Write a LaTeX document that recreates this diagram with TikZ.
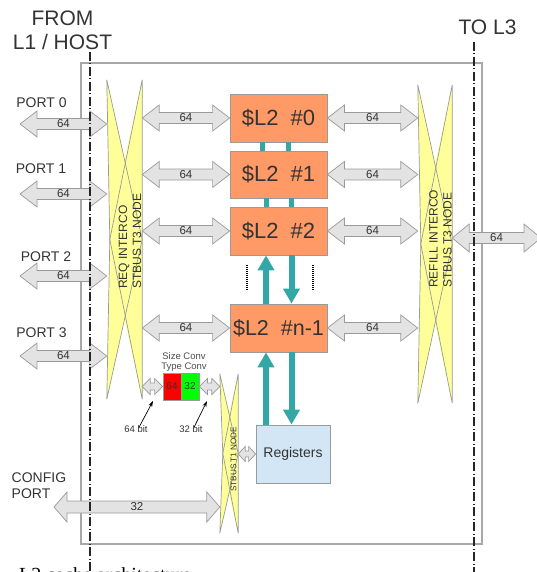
\documentclass[tikz,border=0pt]{standalone}
\usepackage{fontspec}
\setmainfont{Liberation Sans}
\newfontfamily\capfont{Liberation Serif}
\usetikzlibrary{calc,arrows.meta}
\definecolor{txt}{HTML}{333333}
\definecolor{boxgray}{HTML}{A8A8A8}
\definecolor{arrfill}{HTML}{E3E3E3}
\definecolor{arrline}{HTML}{9A9A9A}
\definecolor{ylw}{HTML}{FFFF99}
\definecolor{orng}{HTML}{FF9966}
\definecolor{teal2}{HTML}{33A6A6}
\definecolor{regblue}{HTML}{D2E6F5}
\newcommand\fsz[1]{\fontsize{#1}{#1}\selectfont}
% crossbar (STBus node) shape drawn over an invisible named node
\newcommand\crossnode[1]{%
  \coordinate (#1-c1) at ($(#1.north)!0.5!(#1.center)$);
  \coordinate (#1-c2) at ($(#1.south)!0.5!(#1.center)$);
  \coordinate (#1-m) at ($(#1.west)+(3,0)$);
  \fill[ylw] (#1.north west) -- (#1-c1) -- (#1.north east) -- (#1.south east) -- (#1-c2) -- (#1.south west) -- (#1-m) -- cycle;
  \draw[xline] (#1.north west) -- (#1.east) -- (#1.south west) -- (#1-m) -- cycle;
  \draw[xline] (#1.north east) -- (#1-m) -- (#1.south east) -- cycle;
}
% double-headed block arrow between two points on one horizontal line
% #1 from, #2 to, #3 shaft half, #4 head half, #5 head length, #6 label, #7 font size
\newcommand\fatarr[7]{%
  \path[arrowbox] let \p1=(#1), \p2=(#2) in
    (\x1,\y1) -- (\x1+#5pt,\y1+#4pt) -- (\x1+#5pt,\y1+#3pt) -- (\x2-#5pt,\y1+#3pt)
    -- (\x2-#5pt,\y1+#4pt) -- (\x2,\y1) -- (\x2-#5pt,\y1-#4pt) -- (\x2-#5pt,\y1-#3pt)
    -- (\x1+#5pt,\y1-#3pt) -- (\x1+#5pt,\y1-#4pt) -- cycle
    ({(\x1+\x2)/2},\y1) node[text=txt,inner sep=0,font=\fsz{#7}] {#6};
}
\begin{document}
\begin{tikzpicture}[x=1pt,y=-1pt,
  arrowbox/.style={draw=arrline,fill=arrfill,line width=0.7pt},
  xline/.style={draw=arrline,line width=0.7pt},
  hidden/.style={inner sep=0,draw=none},
  cachebox/.style={draw=arrline,fill=orng,line width=0.8pt,minimum width=97pt,minimum height=48pt,inner sep=0,text=txt,font=\fsz{22}},
  regbox/.style={draw=arrline,fill=regblue,line width=0.8pt,minimum width=74pt,minimum height=58pt,inner sep=0,text=txt,font=\fsz{14}},
  convbox/.style={draw=arrline,line width=0.8pt,minimum width=18pt,minimum height=27pt,inner sep=0,text=txt,font=\fsz{10}},
  lbl/.style={text=txt,inner sep=0},
  tealline/.style={draw=teal2,line width=5pt},
  tealarrow/.style={draw=teal2,line width=6pt,-{Triangle[length=15pt,width=16pt]}},
  dotline/.style={draw=black,line width=2pt,dash pattern=on 1pt off 1pt},
  dashdotline/.style={draw=black!85,line width=1.1pt,dash pattern=on 9pt off 2.5pt on 1pt off 2.5pt},
  annot/.style={draw=black,line width=0.7pt,-{Stealth[length=6pt,width=4pt]}},
  outerbox/.style={draw=boxgray,line width=1.4pt,inner sep=0}
]
\useasboundingbox (0,0) rectangle (537,572);

% frame
\node[outerbox,minimum width=401pt,minimum height=481pt] (frame) at (281.5,303.5) {};

% crossbar nodes
\node[hidden,minimum width=35pt,minimum height=319pt] (req) at (124.5,239.5) {};
\node[hidden,minimum width=34pt,minimum height=318pt] (refill) at (435,244) {};
\node[hidden,minimum width=18pt,minimum height=159pt] (t1) at (229,453.5) {};
\crossnode{req}
\crossnode{refill}
\crossnode{t1}

% caches
\node[cachebox] (c0) at (278.5,118) {\$L2\ \ \#0};
\node[cachebox,minimum height=47pt] (c1) at (278.5,174.5) {\$L2\ \ \#1};
\node[cachebox] (c2) at (278.5,231) {\$L2\ \ \#2};
\node[cachebox,font=\fsz{21.5}] (c3) at (278.5,328) {\$L2\ \ \#n-1};
\node[regbox] (regs) at (293,454) {Registers};

% size / type conversion
\node[convbox,fill=red] (red) at (172,386.5) {64};
\node[convbox,fill=green] (green) at (190,386.5) {32};
\node[lbl,align=center,font=\fontsize{9.5}{10.5}\selectfont,text=black!70] (conv) at (184,362) {Size Conv\\Type Conv};

% port coordinates
\coordinate (p0) at (20,124);
\coordinate (p1) at (20,194);
\coordinate (p2) at (20,276);
\coordinate (p3) at (20,356);
\coordinate (cfg) at (54,507);
\coordinate (outp) at (541,238);

% block arrows
\fatarr{p0}{p0 -| req.west}{5.5}{13}{17}{64}{11.5}
\fatarr{p1}{p1 -| req.west}{5.5}{13}{17}{64}{11.5}
\fatarr{p2}{p2 -| req.west}{5.5}{13}{17}{64}{11.5}
\fatarr{p3}{p3 -| req.west}{5.5}{13}{17}{64}{11.5}
\fatarr{c0 -| req.east}{c0.west}{5.5}{13}{17}{64}{11.5}
\fatarr{c1 -| req.east}{c1.west}{5.5}{13}{17}{64}{11.5}
\fatarr{c2 -| req.east}{c2.west}{5.5}{13}{17}{64}{11.5}
\fatarr{c3 -| req.east}{c3.west}{5.5}{13}{17}{64}{11.5}
\fatarr{c0.east}{c0 -| refill.west}{5.5}{13}{17}{64}{11.5}
\fatarr{c1.east}{c1 -| refill.west}{5.5}{13}{17}{64}{11.5}
\fatarr{c2.east}{c2 -| refill.west}{5.5}{13}{17}{64}{11.5}
\fatarr{c3.east}{c3 -| refill.west}{5.5}{13}{17}{64}{11.5}
\fatarr{outp -| refill.east}{outp}{5.5}{14}{17}{64}{11.5}
\fatarr{cfg}{cfg -| t1.west}{6}{15}{13}{32}{11.5}
\fatarr{req.east |- red.west}{red.west}{3.5}{8}{8}{}{9}
\fatarr{green.east}{green.east -| t1.west}{3.5}{8}{8}{}{9}
\fatarr{t1.east |- regs.west}{regs.west}{3}{7.5}{7}{}{9}

% teal links
\draw[tealline] ([xshift=-16pt]c0.south) -- ([xshift=-16pt]c1.north);
\draw[tealline] ([xshift=9.5pt]c0.south) -- ([xshift=9.5pt]c1.north);
\draw[tealline] ([xshift=-12.5pt]c1.south) -- ([xshift=-12.5pt]c2.north);
\draw[tealline] ([xshift=13pt]c1.south) -- ([xshift=13pt]c2.north);
\draw[tealarrow] ([xshift=-12.5pt]c3.north) -- ([xshift=-12.5pt]c2.south);
\draw[tealarrow] ([xshift=13pt]c2.south) -- ([xshift=13pt]c3.north);
\coordinate (lane1) at ($(c3.south)+(-12.5,0)$);
\coordinate (lane2) at ($(c3.south)+(13,0)$);
\draw[tealarrow] (lane1 |- regs.north) -- (lane1);
\draw[tealarrow] (lane2) -- (lane2 |- regs.north);

% dotted "..." lines
\draw[dotline] (247,265) -- (247,291);
\draw[dotline] (313,265) -- (313,291);

% dash-dot boundaries
\draw[dashdotline] (90,52) -- (90,572);
\draw[dashdotline] (474,42) -- (474,572);

% rotated node texts
\node[lbl,rotate=90,anchor=west,align=left,font=\fontsize{12}{14}\selectfont] (reqtxt) at (130,289) {REQ INTERCO\\STBUS T3 NODE};
\node[lbl,rotate=90,anchor=west,align=left,font=\fontsize{12}{14}\selectfont] (reftxt) at (440.5,288) {REFILL INTERCO\\STBUS T3 NODE};
\node[lbl,rotate=90,anchor=west,font=\fsz{8.2}] (t1txt) at (233.5,492) {STBUS T1 NODE};

% titles
\node[lbl,align=center,font=\fontsize{21}{24}\selectfont] (from) at (62.5,30) {FROM\\L1 / HOST};
\node[lbl,font=\fsz{21}] (tol3) at (487.5,27.5) {TO L3};

% port labels
\node[lbl,font=\fsz{14}] (lp0) at (41.5,102.5) {PORT 0};
\node[lbl,font=\fsz{14}] (lp1) at (41,169) {PORT 1};
\node[lbl,font=\fsz{14}] (lp2) at (46,257) {PORT 2};
\node[lbl,font=\fsz{14}] (lp3) at (41.5,333) {PORT 3};
\node[lbl,anchor=west,align=left,font=\fontsize{14}{16}\selectfont] (lcfg) at (11.5,486) {CONFIG\\PORT};

% bit annotations
\node[lbl,font=\fsz{9.5}] (b64) at (136,429) {64 bit};
\node[lbl,font=\fsz{9.5}] (b32) at (191,429) {32 bit};
\coordinate (t64) at (153,401);
\coordinate (t32) at (207,401);
\draw[annot] ([xshift=3pt,yshift=-2pt]b64.north) -- (t64);
\draw[annot] ([xshift=3pt,yshift=-2pt]b32.north) -- (t32);

% caption (cut by the page edge)
\node[anchor=base west,inner sep=0,text=black,font=\capfont\fsz{20}] (caption) at (19,581.5) {L2 cache architecture};
\end{tikzpicture}
\end{document}
